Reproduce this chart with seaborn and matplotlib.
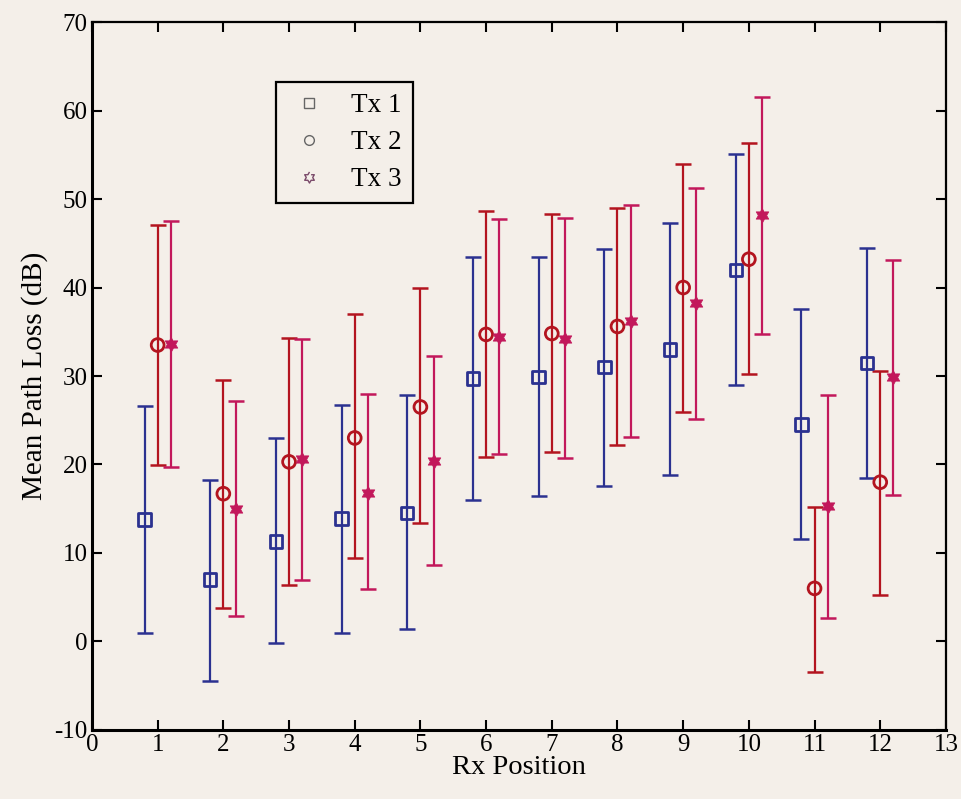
import numpy as np
import pandas as pd
import matplotlib
matplotlib.use("Agg")
import matplotlib.pyplot as plt
from matplotlib.lines import Line2D
import seaborn as sns

rx_positions = [1, 2, 3, 4, 5, 6, 7, 8, 9, 10, 11, 12]
transmitters = ["Tx 1", "Tx 2", "Tx 3"]

# mean path loss (dB) and error bar ends
tx1_mean = [13.8, 7.0, 11.3, 13.9, 14.5, 29.7, 29.9, 31.0, 33.0, 42.0, 24.5, 31.5]
tx1_upper = [26.6, 18.3, 23.0, 26.7, 27.8, 43.5, 43.5, 44.4, 47.3, 55.1, 37.6, 44.5]
tx1_lower = [1.0, -4.5, -0.2, 1.0, 1.4, 16.0, 16.4, 17.6, 18.8, 29.0, 11.6, 18.5]

tx2_mean = [33.5, 16.7, 20.3, 23.0, 26.5, 34.7, 34.8, 35.6, 40.0, 43.2, 6.0, 18.0]
tx2_upper = [47.1, 29.5, 34.3, 37.0, 40.0, 48.6, 48.3, 49.0, 54.0, 56.3, 15.2, 30.6]
tx2_lower = [19.9, 3.8, 6.4, 9.4, 13.4, 20.8, 21.4, 22.2, 25.9, 30.2, -3.5, 5.3]

tx3_mean = [33.6, 15.0, 20.6, 16.8, 20.4, 34.4, 34.2, 36.2, 38.2, 48.2, 15.3, 29.9]
tx3_upper = [47.5, 27.2, 34.2, 28.0, 32.3, 47.7, 47.8, 49.3, 51.3, 61.5, 27.9, 43.1]
tx3_lower = [19.7, 2.9, 7.0, 5.9, 8.6, 21.2, 20.7, 23.1, 25.1, 34.8, 2.7, 16.6]

offsets = {"Tx 1": -0.2, "Tx 2": 0.0, "Tx 3": 0.2}
colors = {"Tx 1": "#2b3190", "Tx 2": "#b3141f", "Tx 3": "#c2185b"}

# six-pointed star (hexagram) outline
ang = np.deg2rad(np.arange(12) * 30 + 90)
rad = np.where(np.arange(12) % 2 == 0, 1.0, 1 / np.sqrt(3))
hexagram = list(zip(rad * np.cos(ang), rad * np.sin(ang)))

frames = []
for tx, m, up, lo in [("Tx 1", tx1_mean, tx1_upper, tx1_lower),
                      ("Tx 2", tx2_mean, tx2_upper, tx2_lower),
                      ("Tx 3", tx3_mean, tx3_upper, tx3_lower)]:
    frames.append(pd.DataFrame({"rx": rx_positions, "tx": tx, "mean": m,
                                "upper": up, "lower": lo}))
df = pd.concat(frames, ignore_index=True)
df["x"] = df["rx"] + df["tx"].map(offsets)

sns.set_theme(style="ticks")
plt.rcParams["font.family"] = ["Liberation Serif", "DejaVu Serif"]
plt.rcParams["axes.unicode_minus"] = False
plt.rcParams["text.color"] = "black"
plt.rcParams["axes.labelcolor"] = "black"
bg = "#f4efe9"

fig = plt.figure(figsize=(9.62, 7.99), dpi=100, facecolor=bg)
ax = fig.add_axes([0.0956, 0.0864, 0.8877, 0.886])
ax.set_facecolor(bg)

for tx in transmitters:
    d = df[df["tx"] == tx]
    ax.errorbar(d["x"], d["mean"],
                yerr=[d["mean"] - d["lower"], d["upper"] - d["mean"]],
                fmt="none", ecolor=colors[tx], elinewidth=1.6,
                capsize=5.5, capthick=1.8, zorder=2)

sns.scatterplot(data=df[df["tx"] == "Tx 1"], x="x", y="mean", ax=ax,
                marker="s", s=80, facecolor="none", edgecolor=colors["Tx 1"],
                linewidth=2, zorder=3, legend=False)
sns.scatterplot(data=df[df["tx"] == "Tx 2"], x="x", y="mean", ax=ax,
                marker="o", s=85, facecolor="none", edgecolor=colors["Tx 2"],
                linewidth=2, zorder=3, legend=False)
sns.scatterplot(data=df[df["tx"] == "Tx 3"], x="x", y="mean", ax=ax,
                marker=hexagram, s=110, color=colors["Tx 3"],
                edgecolor=colors["Tx 3"], linewidth=0.5, zorder=3, legend=False)

ax.set_xlim(0, 13)
ax.set_ylim(-10, 70)
ax.set_xticks(range(0, 14))
ax.set_yticks(range(-10, 71, 10))
ax.set_xlabel("Rx Position", fontsize=20.5, labelpad=-1, color="black")
ax.set_ylabel("Mean Path Loss (dB)", fontsize=21, labelpad=5, color="black")
ax.tick_params(direction="in", length=7, width=1.5, top=True, right=True,
               labelsize=18, colors="black", pad=3)
for name, sp in ax.spines.items():
    sp.set_visible(True)
    sp.set_color("black")
    sp.set_linewidth(2.2 if name in ("left", "bottom") else 1.6)

handles = [
    Line2D([], [], linestyle="none", marker="s", markersize=7,
           markerfacecolor="none", markeredgecolor="#666666", markeredgewidth=1),
    Line2D([], [], linestyle="none", marker="o", markersize=7,
           markerfacecolor="none", markeredgecolor="#666666", markeredgewidth=1),
    Line2D([], [], linestyle="none", marker=hexagram, markersize=8,
           markerfacecolor="none", markeredgecolor="#7a4a6a", markeredgewidth=1),
]
leg = ax.legend(handles, transmitters, loc="upper left",
                bbox_to_anchor=(0.215, 0.915), fontsize=19.5, frameon=True,
                fancybox=False, edgecolor="black", facecolor=bg, framealpha=1,
                handletextpad=0.7, borderpad=0.4, labelspacing=0.45,
                handlelength=1.7, borderaxespad=0)
leg.get_frame().set_linewidth(1.6)
for t in leg.get_texts():
    t.set_color("black")

fig.savefig("out.png", dpi=100, facecolor=bg)
